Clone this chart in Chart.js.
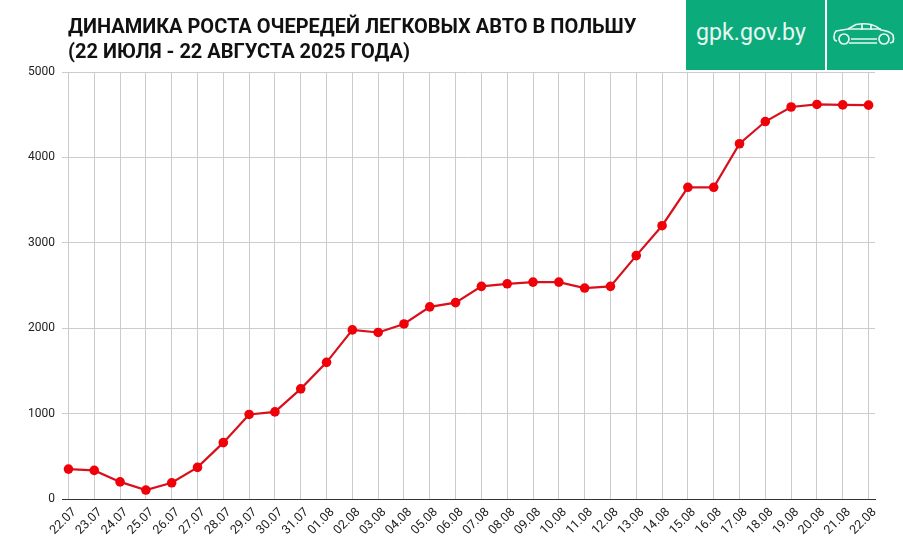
<!DOCTYPE html>
<html>
<head>
<meta charset="utf-8">
<script src="https://cdn.jsdelivr.net/npm/chart.js@4"></script>
<style>
    html, body { margin: 0; padding: 0; background: #fff; }
    #wrap { position: relative; width: 903px; height: 559px; overflow: hidden; font-family: Roboto, sans-serif; }
    #chartCanvas { position: absolute; left: 0; top: 0; }
    #title { position: absolute; left: 68px; top: 14px; font-size: 20px; line-height: 25px; font-weight: 700; color: #111; white-space: nowrap; }
    .badge { position: absolute; top: 0; height: 70px; background: #0bab7c; }
    #site { left: 686px; width: 139px; color: #e8f6f1; font-size: 23.2px; line-height: 65px; text-indent: 10px; }
    #car { left: 827px; width: 76px; }
</style>
</head>
<body>
<div id="wrap">
    <canvas id="chartCanvas" width="903" height="559"></canvas>
    <div id="title">ДИНАМИКА РОСТА ОЧЕРЕДЕЙ ЛЕГКОВЫХ АВТО В ПОЛЬШУ<br>(22 ИЮЛЯ - 22 АВГУСТА 2025 ГОДА)</div>
    <div id="site" class="badge">gpk.gov.by</div>
    <div id="car" class="badge">
        <svg width="76" height="70" viewBox="0 0 76 70" fill="none" stroke="#e8f6f1" stroke-width="1.7" stroke-linejoin="round">
            <path d="M10 41 Q7 41 7 37 Q7 33 9 31 Q15 30 21 29 L29 24.5 Q37 23 44 24.5 Q49 25.5 54 30 Q63 31 66 35 Q67 39 66 42 L63 43"/>
            <path d="M22 43 H50 M24 39 H50"/>
            <path d="M21 29 H54 M35 24 V30 M44 24 V30"/>
            <circle cx="17" cy="39" r="5" fill="#0bab7c"/>
            <circle cx="57" cy="39" r="5" fill="#0bab7c"/>
        </svg>
    </div>
</div>

<script>
// --- Data ---
const dayLabels = [
    "22.07", "23.07", "24.07", "25.07", "26.07", "27.07", "28.07", "29.07", "30.07", "31.07",
    "01.08", "02.08", "03.08", "04.08", "05.08", "06.08", "07.08", "08.08", "09.08", "10.08", "11.08",
    "12.08", "13.08", "14.08", "15.08", "16.08", "17.08", "18.08", "19.08", "20.08", "21.08", "22.08"
];
const queueValues = [
    350, 335, 200, 105, 190, 370, 660, 990, 1020, 1290,
    1600, 1980, 1950, 2050, 2250, 2300, 2490, 2520, 2540, 2540, 2470,
    2490, 2850, 3200, 3650, 3650, 4160, 4420, 4590, 4620, 4615, 4612
];
const yTicks = [0, 1000, 2000, 3000, 4000, 5000];

const ctx = document.getElementById("chartCanvas").getContext("2d");
new Chart(ctx, {
    type: "line",
    data: {
        datasets: [{
            data: queueValues.map((v, i) => ({ x: i, y: v })),
            borderColor: "#d8101c",
            borderWidth: 2.2,
            tension: 0,
            pointRadius: 4.8,
            pointBackgroundColor: "#f00008",
            pointBorderColor: "#f00008",
            pointBorderWidth: 0
        }]
    },
    options: {
        responsive: false,
        animation: false,
        layout: { padding: { top: 72, left: 0, right: 28, bottom: 0 } },
        plugins: { legend: { display: false }, tooltip: { enabled: false } },
        scales: {
            x: {
                type: "linear",
                min: -0.25,
                max: dayLabels.length - 1 + 0.25,
                afterBuildTicks: axis => { axis.ticks = dayLabels.map((_, i) => ({ value: i })); },
                afterFit: axis => { axis.height = 60; },
                grid: { color: "#cccccc", lineWidth: 1, drawTicks: false },
                border: { color: "#333", width: 1 },
                ticks: {
                    autoSkip: false,
                    minRotation: 45,
                    maxRotation: 45,
                    padding: 6,
                    labelOffset: 6,
                    color: "#222",
                    font: { family: "Roboto", size: 12.5 },
                    callback: value => dayLabels[value]
                }
            },
            y: {
                min: 0,
                max: 5000,
                afterBuildTicks: axis => { axis.ticks = yTicks.map(v => ({ value: v })); },
                grid: { color: "#cccccc", lineWidth: 1, drawTicks: false },
                border: { display: false },
                afterFit: axis => { axis.width = 62; },
                ticks: {
                    padding: 7,
                    color: "#222",
                    font: { family: "Roboto", size: 12 },
                    callback: value => String(value)
                }
            }
        }
    }
});
</script>
</body>
</html>
